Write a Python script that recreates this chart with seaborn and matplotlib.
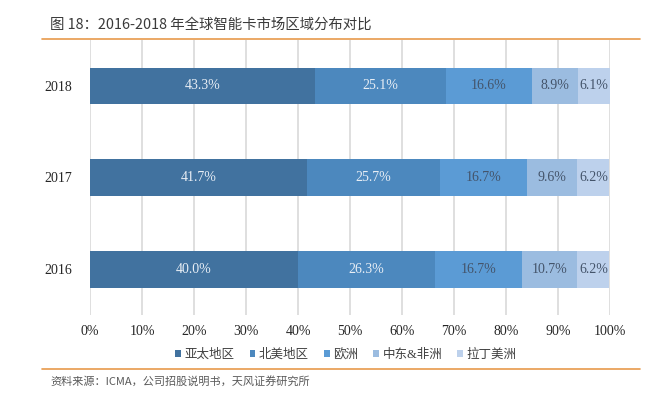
import numpy as np
import pandas as pd
import seaborn as sns
import matplotlib.pyplot as plt
from matplotlib.lines import Line2D
from matplotlib.patches import Patch

# data
years = ["2018", "2017", "2016"]
regions = ["亚太地区", "北美地区", "欧洲", "中东&非洲", "拉丁美洲"]
asia = [43.3, 41.7, 40.0]
north_america = [25.1, 25.7, 26.3]
europe = [16.6, 16.7, 16.7]
mea = [8.9, 9.6, 10.7]
latam = [6.1, 6.2, 6.2]

colors = ["#41729F", "#4C88BE", "#5B9BD5", "#9BBCE0", "#BDD1EC"]
text_colors = ["#E8EEF5", "#E8EEF5", "#44546A", "#44546A", "#44546A"]

series = [asia, north_america, europe, mea, latam]
df = pd.DataFrame({r: v for r, v in zip(regions, series)}, index=years)
cum = df.cumsum(axis=1)

sns.set_theme(style="white")
plt.rcParams['font.family'] = ['Liberation Serif', 'Noto Sans CJK SC']

fig = plt.figure(figsize=(6.56, 3.96), dpi=100)
ax = fig.add_axes([90 / 656, 1 - 315 / 396, 520 / 656, 275 / 396])

# stacked bars: draw cumulative totals from right-most segment back to the first
for i in range(len(regions) - 1, -1, -1):
    sns.barplot(x=cum[regions[i]].values, y=years, orient="h", color=colors[i],
                width=0.4, saturation=1, ax=ax, zorder=3, linewidth=0)

# segment labels
for i, r in enumerate(regions):
    left = cum[r] - df[r]
    for j, y in enumerate(years):
        ax.text(left.iloc[j] + df[r].iloc[j] / 2, j, f"{df[r].iloc[j]:.1f}%",
                ha="center", va="center", fontsize=10, color=text_colors[i],
                zorder=4)

ax.set_xlim(0, 100)
ax.set_ylim(2.5, -0.5)
ax.set_xticks(np.arange(0, 101, 10))
ax.set_xticklabels([f"{t}%" for t in range(0, 101, 10)], fontsize=10, color="#262626")
ax.tick_params(axis="y", labelsize=10, colors="#262626", length=0, pad=13)
ax.tick_params(axis="x", length=0, pad=7)
ax.xaxis.grid(True, color="#D9D9D9", linewidth=1.2, zorder=0)
ax.set_xlabel("")
ax.set_ylabel("")
for s in ax.spines.values():
    s.set_visible(False)

handles = [Patch(facecolor=c, edgecolor="none") for c in colors]
fig.legend(handles, regions, loc="center", bbox_to_anchor=(346 / 656, 1 - 355 / 396),
           ncol=5, frameon=False, fontsize=9, handlelength=0.45, handleheight=0.45,
           handletextpad=0.3, columnspacing=1.2, labelcolor="#404040")

# title, source and orange rules
cjk = ['Noto Sans CJK SC', 'DejaVu Sans']
fig.text(50 / 656, 1 - 25 / 396, "图 18：2016-2018 年全球智能卡市场区域分布对比",
         family=cjk, fontsize=10.4, color="#3A3A3A", va="center")
fig.text(50 / 656, 1 - 381 / 396, "资料来源：ICMA，公司招股说明书，天风证券研究所",
         family=cjk, fontsize=8, color="#595959", va="center")
fig.add_artist(Line2D([42 / 656, 640 / 656], [1 - 39 / 396] * 2, color="#E89A4C", lw=1.2))
fig.add_artist(Line2D([42 / 656, 640 / 656], [1 - 369 / 396] * 2, color="#E89A4C", lw=1.2))

fig.savefig("out.png", dpi=100)
